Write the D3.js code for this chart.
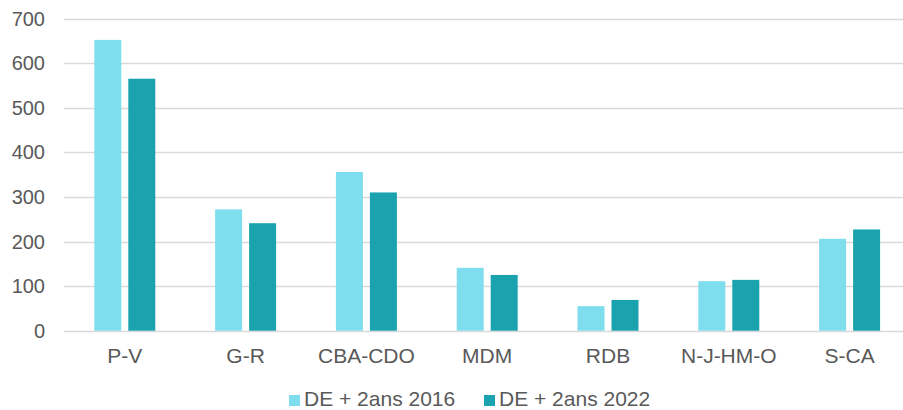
<!DOCTYPE html>
<html>
<head>
<meta charset="utf-8">
<script src="https://cdn.jsdelivr.net/npm/d3@7"></script>
<style>
  body { margin: 0; background: #fff; overflow: hidden; }
  text { font-family: "Liberation Sans", Arial, sans-serif; fill: #595959; }
</style>
</head>
<body>
<svg></svg>
<script>
const width = 903;
const height = 410;

const categories = ['P-V', 'G-R', 'CBA-CDO', 'MDM', 'RDB', 'N-J-HM-O', 'S-CA'];
const seriesNames = ['DE + 2ans 2016', 'DE + 2ans 2022'];
const values2016 = [652, 272, 356, 141, 55, 111, 206];
const values2022 = [565, 241, 310, 125, 69, 114, 227];
const yTicks = [0, 100, 200, 300, 400, 500, 600, 700];
const colors = ['#7fdeee', '#1aa3af'];

const series = [values2016, values2022];

const svg = d3.select('svg')
  .attr('width', width)
  .attr('height', height);

// plot area runs a little past the right edge (cropped chart)
const x0 = d3.scaleBand()
  .domain(categories)
  .range([64.4, 910]);

const x1 = d3.scaleBand()
  .domain(seriesNames)
  .range([0, x0.bandwidth()])
  .paddingInner(0.206)
  .paddingOuter(0.88);

const y = d3.scaleLinear()
  .domain([0, 700])
  .range([330.7, 18.5]);

// gridlines
svg.append('g')
  .selectAll('line')
  .data(yTicks)
  .enter()
  .append('line')
  .attr('x1', 64)
  .attr('x2', 903)
  .attr('y1', d => Math.round(y(d)) + 0.5)
  .attr('y2', d => Math.round(y(d)) + 0.5)
  .attr('stroke', '#d9d9d9')
  .attr('stroke-width', 1.3);

// y labels
svg.append('g')
  .selectAll('text')
  .data(yTicks)
  .enter()
  .append('text')
  .attr('x', 45)
  .attr('y', d => y(d))
  .attr('dy', '0.35em')
  .attr('text-anchor', 'end')
  .style('font-size', '20px')
  .text(d => d);

// bars
const groups = svg.append('g')
  .selectAll('g')
  .data(categories)
  .enter()
  .append('g')
  .attr('transform', d => `translate(${x0(d)},0)`);

groups.selectAll('rect')
  .data((d, i) => seriesNames.map((s, j) => ({ s, v: series[j][i], j })))
  .enter()
  .append('rect')
  .attr('x', d => x1(d.s))
  .attr('width', x1.bandwidth())
  .attr('y', d => y(d.v))
  .attr('height', d => y(0) - y(d.v))
  .attr('fill', d => colors[d.j]);

// x labels
svg.append('g')
  .selectAll('text')
  .data(categories)
  .enter()
  .append('text')
  .attr('x', d => x0(d) + x0.bandwidth() / 2)
  .attr('y', 363)
  .attr('text-anchor', 'middle')
  .style('font-size', '21px')
  .text(d => d);

// legend
const legendX = [289, 484];
const legend = svg.append('g')
  .selectAll('g')
  .data(seriesNames)
  .enter()
  .append('g')
  .attr('transform', (d, i) => `translate(${legendX[i]},395)`);

legend.append('rect')
  .attr('width', 11)
  .attr('height', 11)
  .attr('fill', (d, i) => colors[i]);

legend.append('text')
  .attr('x', 15)
  .attr('y', 11)
  .style('font-size', '21px')
  .text(d => d);
</script>
</body>
</html>
